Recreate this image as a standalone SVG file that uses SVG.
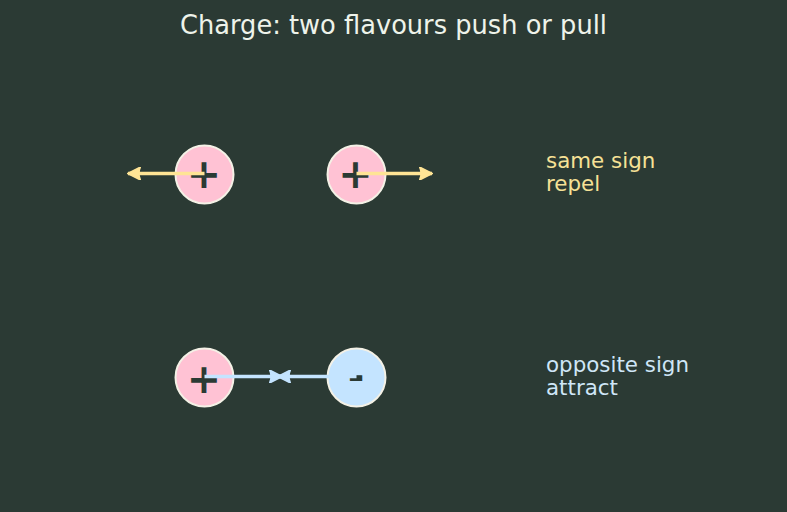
<svg xmlns="http://www.w3.org/2000/svg" width="787" height="512" viewBox="0 0 787 512">
<defs>
<style>
text{font-family:"DejaVu Sans","Liberation Sans",sans-serif}
.title{font-size:25.7px;fill:#eef3ea;text-anchor:middle}
.node circle{stroke:#f4f1e6;stroke-width:2}
.pos circle{fill:#ffc2d4}
.neg circle{fill:#c4e4ff}
.sym{font-size:41px;font-weight:bold;fill:#2b3a34;text-anchor:middle}
.lbl{font-size:21.4px}
.rep{stroke:#ffe495;stroke-width:3.5;fill:none}
.att{stroke:#c4e4ff;stroke-width:3.5;fill:none}
</style>
<marker id="ay" viewBox="0 0 10 10" refX="9.5" refY="5" markerWidth="3.8" markerHeight="3.8" orient="auto" markerUnits="strokeWidth">
<path d="M0,0 L10,5 L0,10 Q2.5,5 0,0 Z" fill="#ffe495" stroke="#ffe495" stroke-width="1" stroke-linejoin="round"/>
</marker>
<marker id="ab" viewBox="0 0 10 10" refX="9.5" refY="5" markerWidth="3.8" markerHeight="3.8" orient="auto" markerUnits="strokeWidth">
<path d="M0,0 L10,5 L0,10 Q2.5,5 0,0 Z" fill="#c4e4ff" stroke="#c4e4ff" stroke-width="1" stroke-linejoin="round"/>
</marker>
</defs>
<rect width="787" height="512" fill="#2b3a34"/>
<text class="title" x="393.5" y="34">Charge: two flavours push or pull</text>
<g id="n1" class="node pos"><circle cx="204.5" cy="174.5" r="29"/><text class="sym" x="204" y="187.6">+</text></g>
<g id="n2" class="node pos"><circle cx="356.5" cy="174.5" r="29"/><text class="sym" x="355.5" y="187.6">+</text></g>
<g id="n3" class="node pos"><circle cx="204.5" cy="377.5" r="29"/><text class="sym" x="204" y="392.6">+</text></g>
<g id="n4" class="node neg"><circle cx="356.5" cy="377.5" r="29"/><text class="sym" x="356" y="390" style="font-size:40px">-</text></g>
<g id="connectors">
<line class="rep" x1="204.5" y1="173.5" x2="128" y2="173.5" marker-end="url(#ay)"/>
<line class="rep" x1="356.5" y1="173.5" x2="432" y2="173.5" marker-end="url(#ay)"/>
<line class="att" x1="204.5" y1="376.5" x2="282" y2="376.5" marker-end="url(#ab)"/>
<line class="att" x1="356.5" y1="376.5" x2="278" y2="376.5" marker-end="url(#ab)"/>
</g>
<g id="labels">
<text class="lbl" fill="#f6e196" x="546" y="168">same sign</text>
<text class="lbl" fill="#f6e196" x="546" y="191">repel</text>
<text class="lbl" fill="#cfe6f7" x="546" y="372">opposite sign</text>
<text class="lbl" fill="#cfe6f7" x="546" y="395">attract</text>
</g>
</svg>
